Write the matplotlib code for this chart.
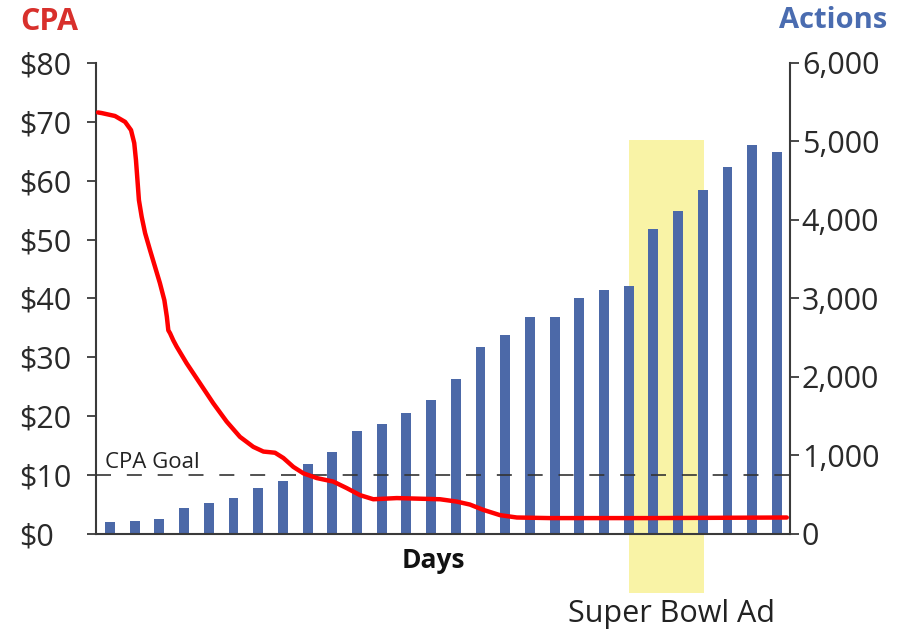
import matplotlib.pyplot as plt
from matplotlib.patches import Rectangle
from matplotlib.ticker import FuncFormatter

plt.rcParams['font.family'] = ['Open Sans', 'DejaVu Sans']

# daily actions (bars, right axis)
days = list(range(28))
actions = [150, 160, 190, 330, 400, 460, 590, 670, 890, 1040, 1310, 1400,
           1540, 1705, 1970, 2385, 2540, 2760, 2760, 3000, 3110, 3160,
           3890, 4120, 4385, 4680, 4950, 4865]

# CPA curve (left axis), read at fractional day positions
cpa_days = [-0.49, -0.34, 0.20, 0.61, 0.85, 0.98, 1.05, 1.11, 1.17, 1.28, 1.42,
            1.62, 1.82, 2.02, 2.20, 2.30, 2.36, 2.43, 2.56, 2.70, 3.10,
            3.64, 4.18, 4.72, 5.26, 5.80, 6.21, 6.45, 6.68, 7.02, 7.42, 7.83,
            8.37, 9.04, 9.58, 10.12, 10.66, 11.61, 13.36, 14.04, 14.57, 15.11,
            15.79, 16.47, 17.81, 21.86, 27.40]
cpa_values = [71.6, 71.5, 71.0, 70.0, 68.6, 66.4, 63.5, 60.1, 56.7, 53.9, 51.1,
              48.2, 45.4, 42.6, 39.7, 36.9, 34.6, 34.1, 32.9, 31.8, 29.0,
              25.6, 22.2, 19.1, 16.5, 14.8, 14.0, 13.9, 13.8, 12.9, 11.4, 10.3,
              9.5, 8.9, 7.8, 6.6, 5.9, 6.1, 5.9, 5.5, 5.0, 4.1,
              3.2, 2.8, 2.7, 2.7, 2.8]

cpa_goal = 10
cpa_ticks = [0, 10, 20, 30, 40, 50, 60, 70, 80]
action_ticks = [0, 1000, 2000, 3000, 4000, 5000, 6000]

# Super Bowl ad highlight (day range, actions range)
ad_start, ad_end = 21.0, 24.05
ad_low, ad_high = -750, 5020

bar_color = '#4c69a8'
spine_color = '#3a3a3a'

fig = plt.figure(figsize=(9.01, 6.30), dpi=100)
ax = fig.add_axes([0.1065, 0.1524, 0.7703, 0.7476])
ax2 = ax.twinx()

# bars + highlight on the right axis
ax2.add_patch(Rectangle((ad_start, ad_low), ad_end - ad_start, ad_high - ad_low,
                        facecolor='#f9f3a6', edgecolor='none', clip_on=False, zorder=0.5))
ax2.bar(days, actions, width=0.4, color=bar_color, zorder=2)
ax2.set_ylim(0, 6000)

# line + goal on the left axis, drawn above the bars
ax.set_zorder(ax2.get_zorder() + 1)
ax.patch.set_visible(False)
ax.plot(cpa_days, cpa_values, color='#ff0000', lw=3.2, solid_joinstyle='round',
        solid_capstyle='round', zorder=4)
ax.axhline(cpa_goal, color='#333333', lw=1.2, linestyle=(0, (9, 9.5)), zorder=3)
ax.text(-0.2, 11.2, 'CPA Goal', fontsize=16, color='#222222', va='baseline', ha='left')
ax.set_ylim(0, 80)
ax.set_xlim(-0.57, 27.53)

ax.set_xticks([])
ax.set_yticks(cpa_ticks)
ax2.set_yticks(action_ticks)
ax.yaxis.set_major_formatter(FuncFormatter(lambda v, p: '\\$%d' % v))
ax2.yaxis.set_major_formatter(FuncFormatter(lambda v, p: f'{v:,.0f}'))

for s in ['top', 'right']:
    ax.spines[s].set_visible(False)
for s in ['top', 'left', 'bottom']:
    ax2.spines[s].set_visible(False)
for sp in [ax.spines['left'], ax.spines['bottom'], ax2.spines['right']]:
    sp.set_color(spine_color)
    sp.set_linewidth(1.5)

ax.tick_params(axis='y', direction='out', length=6.5, width=1.3, color=spine_color,
               labelsize=22, labelcolor='#2a2a2a', pad=49)
for lab in ax.get_yticklabels():
    lab.set_horizontalalignment('left')
ax2.tick_params(axis='y', direction='out', length=6.5, width=1.3, color=spine_color,
                labelsize=22, labelcolor='#2a2a2a', pad=2)

fig.text(0.022, 0.952, 'CPA', fontsize=22, fontweight='bold', color='#d8302c',
         ha='left', va='baseline')
fig.text(0.9845, 0.955, 'Actions', fontsize=21, fontweight='bold', color='#4a6cb0',
         ha='right', va='baseline')
fig.text(0.4808, 0.0984, 'Days', fontsize=19, fontweight='bold', color='#111111',
         ha='center', va='baseline')
fig.text(0.7458, 0.0132, 'Super Bowl Ad', fontsize=22, color='#222222',
         ha='center', va='baseline')

fig.savefig('out.png', dpi=100, facecolor='white')
